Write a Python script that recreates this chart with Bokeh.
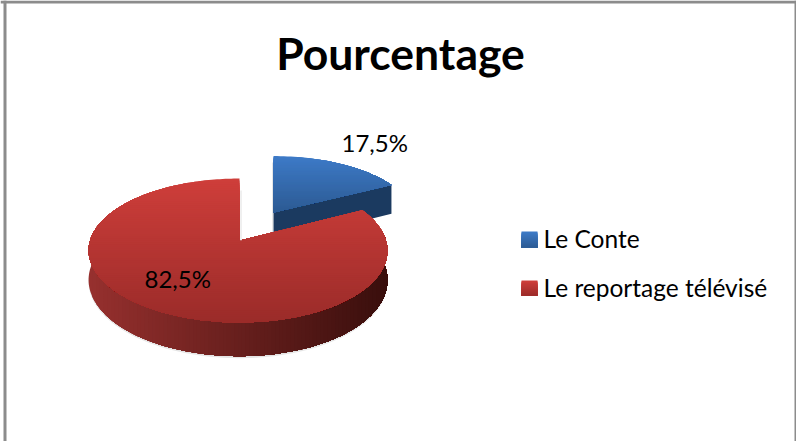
import numpy as np
from bokeh.plotting import figure
from bokeh.models import Range1d
from bokeh.core.properties import value
from bokeh.embed import file_html
from bokeh.resources import INLINE

title = "Pourcentage"
categories = ["Le Conte", "Le reportage télévisé"]
percentages = [17.5, 82.5]

W, H = 796, 441
p = figure(width=W, height=H, x_range=Range1d(0, W), y_range=Range1d(H, 0),
           output_backend="svg", toolbar_location=None, min_border=0,
           background_fill_color="white", border_fill_color="white",
           outline_line_color=None)
p.axis.visible = False
p.grid.visible = False

K = 0.139
A, B, D = 70.6, 148.0, 29.0


def rim(theta, cx, cy, scale=1.0, drop=0.0, xscale=1.0, skew=0.0):
    u, v = np.sin(theta), np.cos(theta)
    s = 1.0 / (1.0 + K * v)
    x = cx + xscale * scale * B * u * s - skew * u * u
    return x, cy - scale * A * v * s + scale * drop * D * s


def mix(c0, c1, t):
    c0 = np.array(c0, float)
    c1 = np.array(c1, float)
    r, g, b = np.round(c0 + (c1 - c0) * np.clip(t, 0, 1)).astype(int)
    return f"#{r:02x}{g:02x}{b:02x}"


def clip_min(xs, ys, limit, horizontal):
    """Keep the polygon part with y >= limit (or x >= limit)."""
    pts = list(zip(xs, ys))
    idx = 1 if horizontal else 0
    out = []
    for i, a in enumerate(pts):
        b = pts[(i + 1) % len(pts)]
        ina, inb = a[idx] >= limit, b[idx] >= limit
        if ina:
            out.append(a)
        if ina != inb:
            t = (limit - a[idx]) / (b[idx] - a[idx])
            out.append((a[0] + t * (b[0] - a[0]), a[1] + t * (b[1] - a[1])))
    return [q[0] for q in out], [q[1] for q in out]


def gradient(xs, ys, c0, c1, horizontal=True, lo=None, hi=None, n=60):
    arr = ys if horizontal else xs
    lo = min(arr) if lo is None else lo
    hi = max(arr) if hi is None else hi
    X, Y, C = [], [], []
    for i in range(n):
        lim = min(arr) + (max(arr) - min(arr)) * i / n
        cx, cy = clip_min(xs, ys, lim, horizontal)
        if len(cx) > 2:
            X.append(cx)
            Y.append(cy)
            C.append(mix(c0, c1, (lim - lo) / (hi - lo)))
    p.patches(X, Y, fill_color=C, line_color=None)


sweep = 2 * np.pi * percentages[0] / sum(percentages)

# Blue slice, pulled out of the pie
bc = (273, 212)
bs = 0.91
bxs = 1.045
bdrop = 1.16
th = np.linspace(0, sweep, 40)
bx, by = rim(th, *bc, bs, xscale=bxs)
ex, ey = rim(np.array([sweep]), *bc, bs, bdrop, xscale=bxs)
ax0, ay0 = bc[0], bc[1] + bs * bdrop * D
p.patch([bc[0], bx[-1], ex[0], ax0], [bc[1], by[-1], ey[0], ay0],
        fill_color="#1b3a60", line_color=None)
gradient([bc[0]] + list(bx), [bc[1]] + list(by), (61, 122, 199), (44, 90, 146))
p.line([bc[0] - 1, bc[0] - 1], [bc[1] - 50, bc[1] + 20], line_color="#e6e6e6", line_width=1)

# Red slice: shadow, wall, top
skew = 1.5
th = np.linspace(np.radians(84), np.radians(276), 120)
c = (239, 240)
tx, ty = rim(th, *c, skew=skew)
dx, dy = rim(th, *c, 1.0, 1.0, skew=skew)
sx, sy = rim(th, c[0], c[1] + 2, 1.0, 1.0, skew=skew)
p.patch(list(tx) + list(sx[::-1]), list(ty) + list(sy[::-1]),
        fill_color="#cccccc", fill_alpha=0.5, line_color=None)
gradient(list(tx) + list(dx[::-1]), list(ty) + list(dy[::-1]),
         (150, 48, 46), (56, 14, 12), horizontal=False, n=80)

th = np.linspace(sweep, 2 * np.pi, 240)
rx, ry = rim(th, *c, skew=skew)
gradient([c[0]] + list(rx), [c[1]] + list(ry), (206, 62, 58), (154, 43, 41), n=70)
p.line([c[0] + 1.5, c[0] + 1.5], [c[1] - 50, c[1]], line_color="#e0e0e0", line_width=1)

# Data labels
labels = [f"{v:.1f}%".replace(".", ",") for v in percentages]
p.text([341, 144], [142, 278], text=labels, text_font=value("Lato"), text_font_size="24px",
       text_color="black", text_align="left", text_baseline="middle")

# Title
p.text([400], [52], text=[title], text_font=value("Lato"), text_font_size="44.5px",
       text_font_style="bold", text_color="black", text_align="center", text_baseline="middle")

# Legend
swatches = [(231, 247, (61, 122, 199), (44, 90, 146)), (280, 295, (206, 62, 58), (154, 43, 41))]
for (y0, y1, c0, c1), name in zip(swatches, categories):
    gradient([521, 537, 537, 521], [y0, y0, y1, y1], c0, c1, n=16)
    p.text([543], [(y0 + y1) / 2 - 1], text=[name], text_font=value("Lato"), text_font_size="24.5px",
           text_color="black", text_align="left", text_baseline="middle")

# Chart frame
p.quad(left=[0, 3, 794], right=[796, 6, 796], top=[0, 0, 0], bottom=[3, 441, 441],
       fill_color="#8c8c8c", line_color=None)

open("out.html", "w").write(file_html(p, INLINE))
